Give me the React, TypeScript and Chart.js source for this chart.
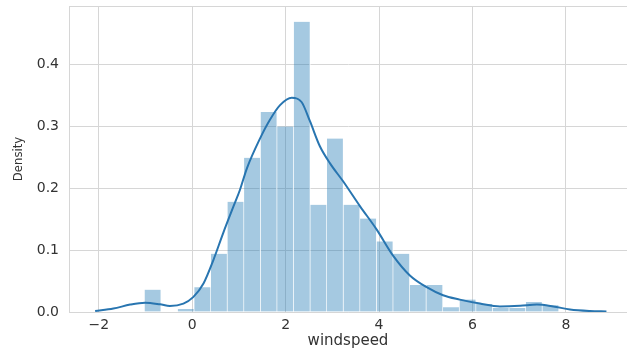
import React, { useEffect, useRef } from "react";
import { Chart, registerables } from "chart.js";

Chart.register(...registerables);

// Histogram (density) bins
const binCenters = [
  -0.8425, -0.4875, -0.1325, 0.2225, 0.5775, 0.9325, 1.2875, 1.6425, 1.9975,
  2.3525, 2.7075, 3.0625, 3.4175, 3.7725, 4.1275, 4.4825, 4.8375, 5.1925,
  5.5475, 5.9025, 6.2575, 6.6125, 6.9675, 7.3225, 7.6775,
];
const binDensity = [
  0.036, 0, 0.005, 0.04, 0.094, 0.178, 0.249, 0.323, 0.2995, 0.4685, 0.173,
  0.28, 0.173, 0.151, 0.114, 0.094, 0.0435, 0.0435, 0.0075, 0.02, 0.013,
  0.0065, 0.0065, 0.016, 0.011,
];

// KDE curve
const kdeX = [
  -2.08, -1.69, -1.33, -1.01, -0.69, -0.48, -0.19, 0.02, 0.24, 0.45, 0.66,
  0.88, 1.02, 1.17, 1.45, 1.66, 1.88, 2.13, 2.34, 2.52, 2.73, 2.95, 3.23,
  3.59, 3.95, 4.3, 4.66, 5.02, 5.37, 5.73, 6.16, 6.59, 7.02, 7.38, 7.73,
  8.09, 8.52, 8.87,
];
const kdeY = [
  0.0016, 0.0055, 0.012, 0.015, 0.0124, 0.0097, 0.0136, 0.024, 0.046, 0.0835,
  0.127, 0.17, 0.197, 0.232, 0.28, 0.31, 0.334, 0.346, 0.339, 0.308, 0.268,
  0.24, 0.211, 0.171, 0.133, 0.091, 0.059, 0.04, 0.027, 0.02, 0.0136, 0.009,
  0.01, 0.012, 0.009, 0.004, 0.0016, 0.001,
];

const xTicks = [-2, 0, 2, 4, 6, 8];
const yTicks = [0, 0.1, 0.2, 0.3, 0.4];
const xRange = [-2.64, 9.31];
const yRange = [0, 0.494];
const xLabel = "windspeed";
const yLabel = "Density";

const GRID = "#d6d6d6";
const TEXT = "#333333";

export default function App() {
  const ref = useRef<HTMLCanvasElement>(null);

  useEffect(() => {
    if (!ref.current) return;
    const topSpine = {
      id: "topSpine",
      afterDraw(chart: any) {
        const { ctx, chartArea } = chart;
        ctx.save();
        ctx.strokeStyle = GRID;
        ctx.lineWidth = 1;
        ctx.beginPath();
        ctx.moveTo(chartArea.left, Math.round(chartArea.top) + 0.5);
        ctx.lineTo(chartArea.right, Math.round(chartArea.top) + 0.5);
        ctx.stroke();
        ctx.restore();
      },
    };

    const chart = new Chart(ref.current, {
      type: "bar",
      data: {
        datasets: [
          {
            type: "line",
            data: kdeX.map((x, i) => ({ x, y: kdeY[i] })),
            borderColor: "rgb(40,117,176)",
            borderWidth: 2,
            pointRadius: 0,
            cubicInterpolationMode: "monotone",
            fill: false,
            order: 0,
          } as any,
          {
            type: "bar",
            data: binCenters.map((x, i) => ({ x, y: binDensity[i] })),
            backgroundColor: "rgba(31,119,180,0.4)",
            borderColor: "rgba(255,255,255,0.85)",
            borderWidth: { top: 0, bottom: 0, left: 0, right: 1 },
            borderSkipped: false,
            barPercentage: 1,
            categoryPercentage: 1,
            order: 1,
          } as any,
        ],
      },
      options: {
        animation: false,
        responsive: false,
        maintainAspectRatio: false,
        layout: { padding: { top: 6, left: 0, right: 0, bottom: 0 } },
        plugins: { legend: { display: false }, tooltip: { enabled: false } },
        scales: {
          x: {
            type: "linear",
            min: xRange[0],
            max: xRange[1],
            offset: false,
            afterBuildTicks: (s: any) => {
              s.ticks = xTicks.map((v) => ({ value: v }));
            },
            afterFit: (s: any) => {
              s.height = 42;
              s.paddingLeft = 0;
              s.paddingRight = 0;
            },
            grid: { color: GRID, lineWidth: 1, drawTicks: false, offset: false },
            border: { display: true, color: GRID },
            ticks: {
              padding: 5,
              color: TEXT,
              font: { family: "'DejaVu Sans'", size: 14 },
              callback: (v: any) => String(v).replace("-", "\u2212"),
              maxRotation: 0,
            },
            title: {
              display: true,
              text: xLabel,
              color: TEXT,
              font: { family: "'DejaVu Sans'", size: 15 },
              padding: { top: 0, bottom: 4 },
            },
          },
          y: {
            type: "linear",
            min: yRange[0],
            max: yRange[1],
            afterBuildTicks: (s: any) => {
              s.ticks = yTicks.map((v) => ({ value: v }));
            },
            afterFit: (s: any) => {
              s.width = 69;
              s.paddingTop = 0;
              s.paddingBottom = 0;
            },
            grid: { color: GRID, lineWidth: 1, drawTicks: false },
            border: { display: true, color: GRID },
            ticks: {
              padding: 10,
              color: TEXT,
              font: { family: "'DejaVu Sans'", size: 14 },
              callback: (v: any) => Number(v).toFixed(1),
            },
            title: {
              display: true,
              text: yLabel,
              color: TEXT,
              font: {
                family: "'DejaVu Sans Condensed', 'Liberation Sans Narrow', 'DejaVu Sans'",
                size: 13,
              },
              padding: { top: 11, bottom: 0 },
            },
          },
        },
      },
      plugins: [topSpine],
    });
    return () => chart.destroy();
  }, []);

  return (
    <div
      style={{
        position: "fixed",
        left: 0,
        top: 0,
        width: 627,
        height: 354,
        background: "#ffffff",
      }}
    >
      <canvas ref={ref} width={627} height={354} />
    </div>
  );
}
